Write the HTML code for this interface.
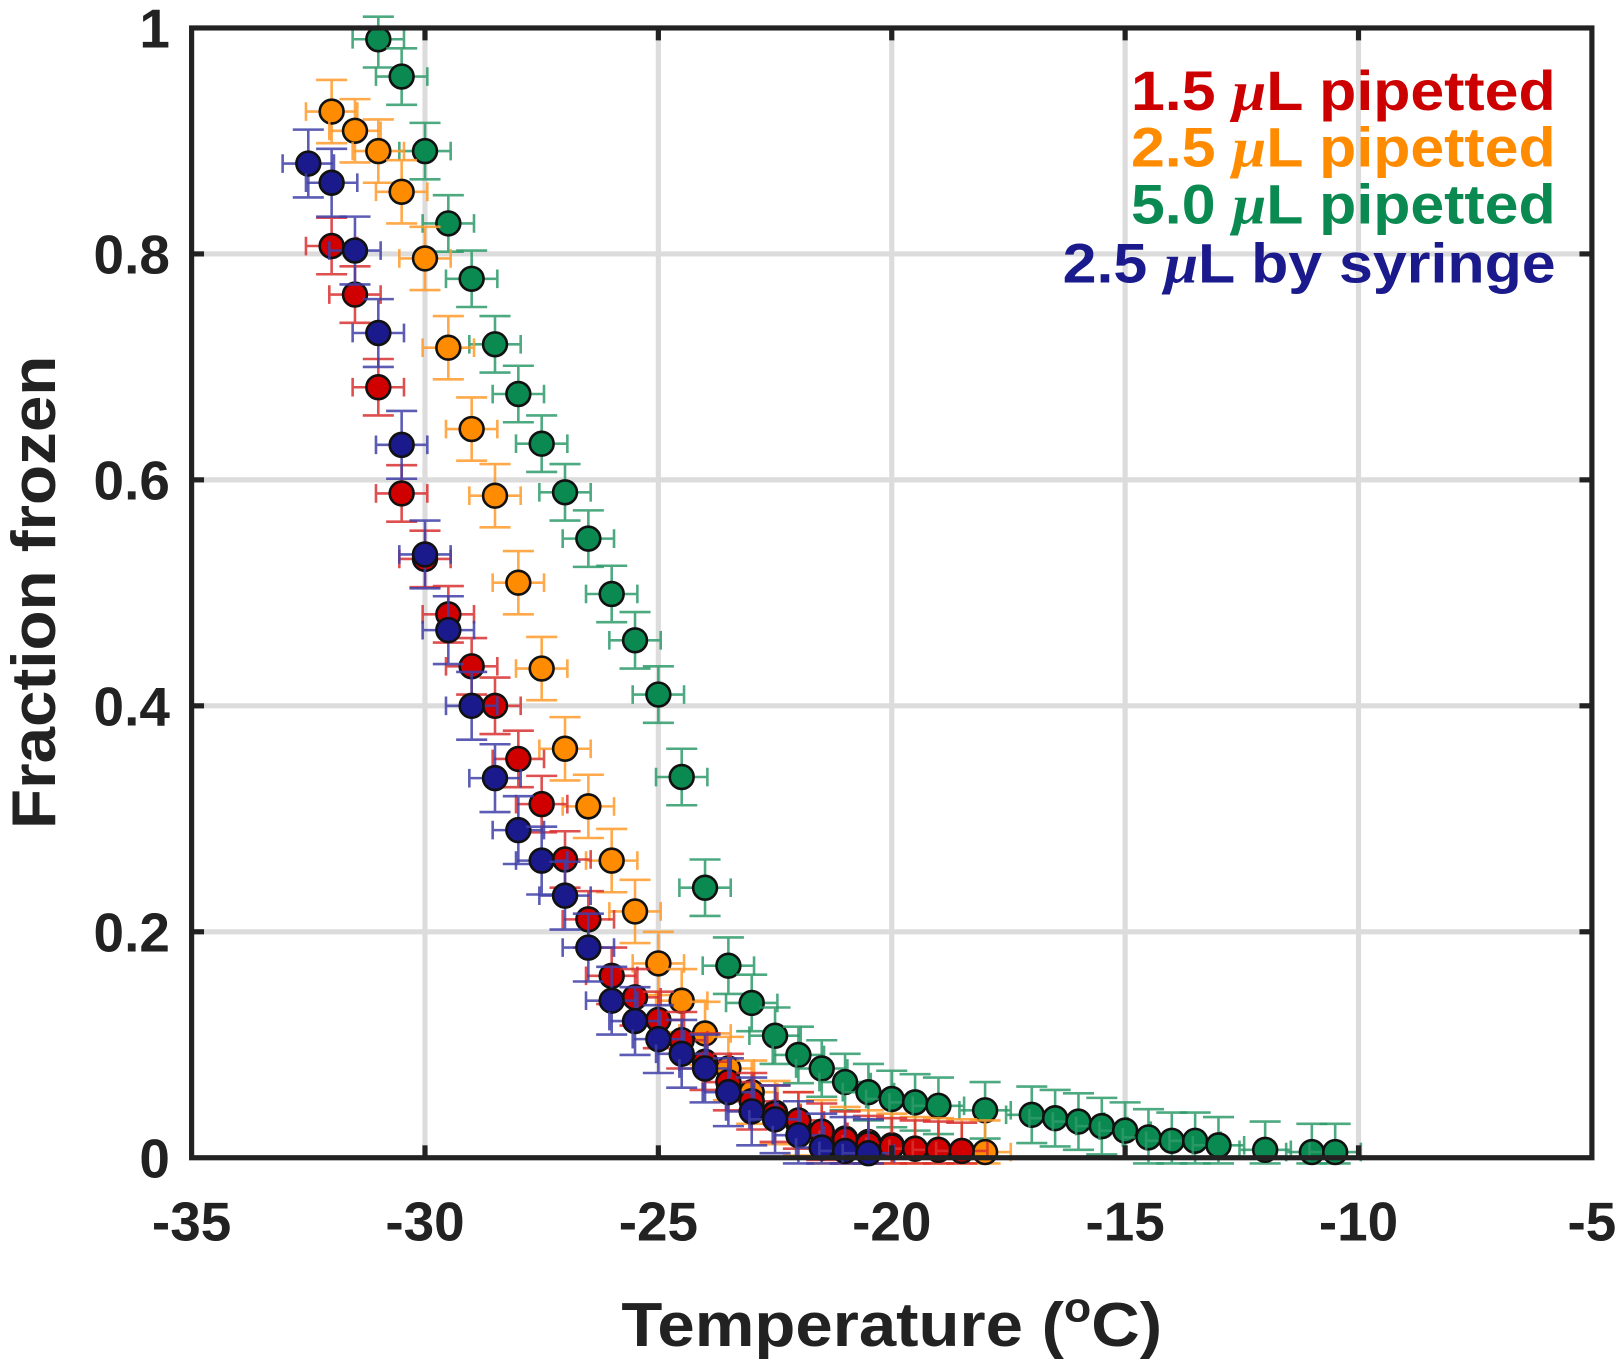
<!DOCTYPE html>
<html><head><meta charset="utf-8"><style>
html,body{margin:0;padding:0;background:#fff;}
svg{display:block;font-family:"Liberation Sans",Arial,sans-serif;font-weight:bold;}
</style></head><body>
<svg id="chart" width="1624" height="1369" viewBox="0 0 1568 1322" preserveAspectRatio="none" xmlns="http://www.w3.org/2000/svg">
<g id="grid"></g>
<g id="series"></g>
<rect x="185" y="27" width="1352" height="1091" fill="none" stroke="#222" stroke-width="5"/>
<g id="ticks"></g>
<text transform="translate(53,572) rotate(-90)" text-anchor="middle" font-size="60" fill="#222" textLength="457" lengthAdjust="spacingAndGlyphs">Fraction frozen</text>
<text x="861" y="1300" text-anchor="middle" font-size="60" fill="#222" textLength="522" lengthAdjust="spacingAndGlyphs">Temperature (<tspan font-size="40" dy="-24">o</tspan><tspan dy="24">C)</tspan></text>
<g font-size="54" text-anchor="end">
<text x="1502" y="106" fill="#cc0000" textLength="410" lengthAdjust="spacingAndGlyphs">1.5 <tspan font-family="Liberation Serif" font-style="italic">μ</tspan>L pipetted</text>
<text x="1502" y="161" fill="#ff8c00" textLength="410" lengthAdjust="spacingAndGlyphs">2.5 <tspan font-family="Liberation Serif" font-style="italic">μ</tspan>L pipetted</text>
<text x="1502" y="216" fill="#0a8a50" textLength="410" lengthAdjust="spacingAndGlyphs">5.0 <tspan font-family="Liberation Serif" font-style="italic">μ</tspan>L pipetted</text>
<text x="1502" y="273" fill="#1a1a8c" textLength="476" lengthAdjust="spacingAndGlyphs">2.5 <tspan font-family="Liberation Serif" font-style="italic">μ</tspan>L by syringe</text>
</g>
</svg>
<script>
const xTicks = [-35,-30,-25,-20,-15,-10,-5];
const yTicks = [0,0.2,0.4,0.6,0.8,1];
const yTickLabels = ['0','0.2','0.4','0.6','0.8','1'];

const redT = [-32,-31.5,-31,-30.5,-30,-29.5,-29,-28.5,-28,-27.5,-27,-26.5,-26,-25.5,-25,-24.5,-24,-23.5,-23,-22.5,-22,-21.5,-21,-20.5,-20,-19.5,-19,-18.5];
const redF = [0.807,0.764,0.682,0.588,0.530,0.481,0.435,0.400,0.353,0.313,0.264,0.211,0.161,0.142,0.122,0.104,0.085,0.067,0.050,0.039,0.033,0.023,0.016,0.012,0.010,0.008,0.007,0.006];
const orangeT = [-32,-31.5,-31,-30.5,-30,-29.5,-29,-28.5,-28,-27.5,-27,-26.5,-26,-25.5,-25,-24.5,-24,-23.5,-23,-22.5,-22,-21.5,-21,-20.5,-20,-19.5,-19,-18.5,-18];
const orangeF = [0.926,0.909,0.891,0.855,0.796,0.717,0.645,0.586,0.509,0.433,0.362,0.311,0.263,0.218,0.172,0.139,0.110,0.079,0.058,0.040,0.030,0.023,0.017,0.014,0.011,0.008,0.007,0.006,0.005];
const greenT = [-31,-30.5,-30,-29.5,-29,-28.5,-28,-27.5,-27,-26.5,-26,-25.5,-25,-24.5,-24,-23.5,-23,-22.5,-22,-21.5,-21,-20.5,-20,-19.5,-19,-18,-17,-16.5,-16,-15.5,-15,-14.5,-14,-13.5,-13,-12,-11,-10.5];
const greenF = [0.990,0.957,0.891,0.827,0.778,0.720,0.676,0.632,0.589,0.548,0.499,0.458,0.410,0.337,0.239,0.170,0.137,0.108,0.091,0.079,0.067,0.058,0.052,0.049,0.046,0.042,0.038,0.035,0.032,0.028,0.024,0.018,0.015,0.015,0.011,0.007,0.005,0.005];
const blueT = [-32.5,-32,-31.5,-31,-30.5,-30,-29.5,-29,-28.5,-28,-27.5,-27,-26.5,-26,-25.5,-25,-24.5,-24,-23.5,-23,-22.5,-22,-21.5,-21,-20.5];
const blueF = [0.880,0.863,0.803,0.730,0.631,0.534,0.467,0.400,0.336,0.290,0.263,0.232,0.186,0.139,0.121,0.105,0.092,0.079,0.058,0.041,0.034,0.020,0.009,0.006,0.004];
const xErr = 0.55;
const yErrs = [0.025,0.028,0.025,0.03];

const X0=185,X1=1537,Y0=1118,Y1=27;
function sx(t){return X0+(t+35)/30*(X1-X0);}
function sy(f){return Y0-f*(Y0-Y1);}
const NS='http://www.w3.org/2000/svg';
function mk(tag,attrs,parent){const e=document.createElementNS(NS,tag);for(const k in attrs)e.setAttribute(k,attrs[k]);parent.appendChild(e);return e;}

const grid=document.getElementById('grid');
const ticks=document.getElementById('ticks');
xTicks.forEach(t=>{
  if(t>-35&&t<-5){
    const g=mk('line',{x1:sx(t),x2:sx(t),y1:Y1,y2:Y0,stroke:'#dcdcdc','stroke-width':5},grid);
    
    
    const a=mk('line',{x1:sx(t),x2:sx(t),y1:Y0,y2:Y0-12,stroke:'#222','stroke-width':5},ticks);
    
    
    const b=mk('line',{x1:sx(t),x2:sx(t),y1:Y1,y2:Y1+12,stroke:'#222','stroke-width':5},ticks);
    
    
  }
  const lb=mk('text',{x:sx(t),y:1198,'text-anchor':'middle','font-size':53,fill:'#222'},ticks);
  lb.textContent=String(t);
  
  
});
yTicks.forEach((f,i)=>{
  if(f>0&&f<1){
    const g=mk('line',{x1:X0,x2:X1,y1:sy(f),y2:sy(f),stroke:'#dcdcdc','stroke-width':5},grid);
    
    
    const a=mk('line',{x1:X0,x2:X0+12,y1:sy(f),y2:sy(f),stroke:'#222','stroke-width':5},ticks);
    
    
    const b=mk('line',{x1:X1,x2:X1-12,y1:sy(f),y2:sy(f),stroke:'#222','stroke-width':5},ticks);
    
    
  }
  const lb=mk('text',{x:164,y:sy(f)+19,'text-anchor':'end','font-size':53,fill:'#222'},ticks);
  lb.textContent=yTickLabels[i];
  
  
});

const seriesG=document.getElementById('series');
const defs=[
  {T:greenT,F:greenF,fill:'#0a8a50',err:'#2e9a6a',ye:yErrs[2],name:'series-5.0ul'},
  {T:orangeT,F:orangeF,fill:'#ff8c00',err:'#ff9a2a',ye:yErrs[1],name:'series-2.5ul'},
  {T:redT,F:redF,fill:'#d10000',err:'#d83030',ye:yErrs[0],name:'series-1.5ul'},
  {T:blueT,F:blueF,fill:'#1a1a8c',err:'#4040a8',ye:yErrs[3],name:'series-syringe'}
];
defs.forEach(d=>{
  const g=mk('g',{},seriesG);
  
  
  d.T.forEach((t,i)=>{
    const x=sx(t),y=sy(d.F[i]);
    const xl=sx(t-xErr),xr=sx(t+xErr),yt=sy(Math.min(1.01,d.F[i]+d.ye)),yb=sy(Math.max(-0.005,d.F[i]-d.ye));
    const eb=mk('path',{d:`M${xl},${y}H${xr}M${xl},${y-9}V${y+9}M${xr},${y-9}V${y+9}M${x},${yt}V${yb}M${x-15},${yt}H${x+15}M${x-15},${yb}H${x+15}`,stroke:d.err,'stroke-width':2.5,fill:'none',opacity:0.85},g);
    
    
    const c=mk('circle',{cx:x,cy:y,r:11.5,fill:d.fill,stroke:'#111','stroke-width':2.5},g);
    
    
  });
});
</script>
</body></html>
